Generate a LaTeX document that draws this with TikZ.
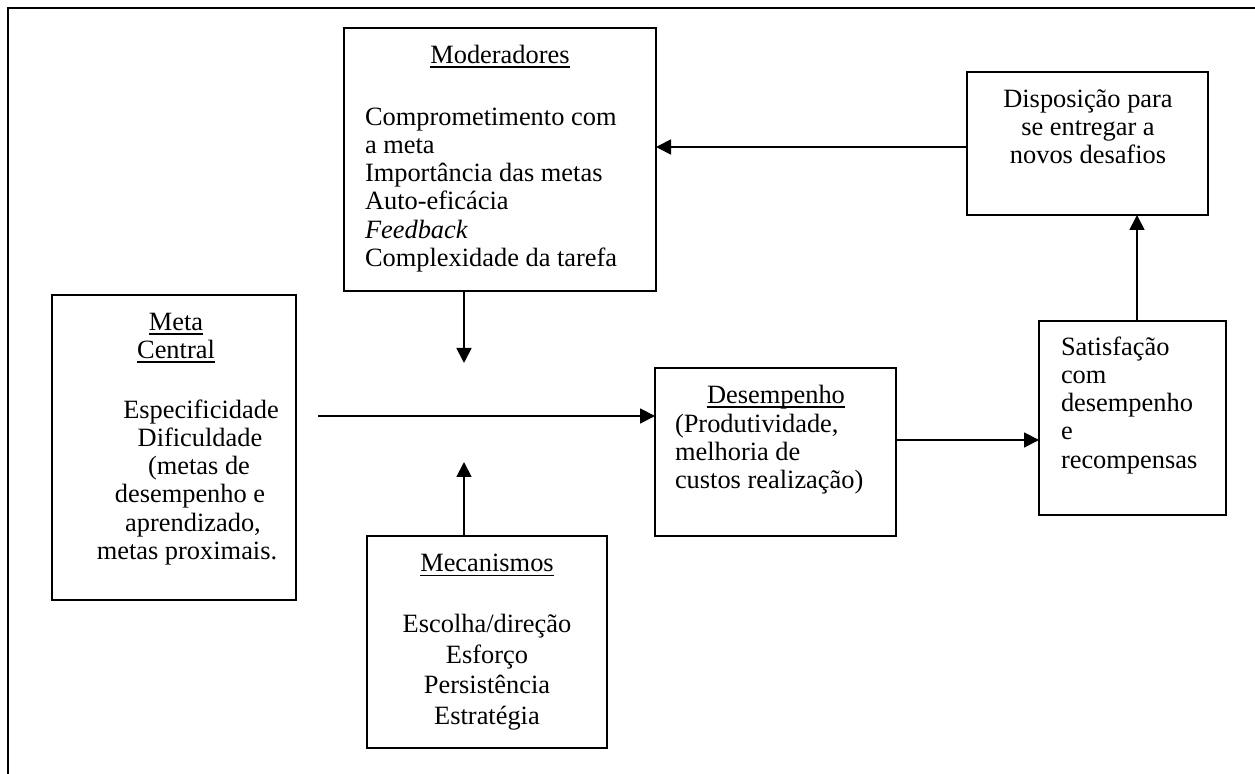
\documentclass[tikz,border=0pt]{standalone}
\usepackage{fontspec}
\setmainfont{Liberation Serif}
\usetikzlibrary{arrows.meta}

% underline that sits just below the baseline, crossing descenders
\newcommand\titleline[1]{\setbox0\hbox{#1}\rlap{\rule[-2.3pt]{\wd0}{0.8pt}}\box0}

\begin{document}
\begin{tikzpicture}[x=0.5pt,y=-0.5pt,
  box/.style={draw, line width=1pt, inner sep=0pt, outer sep=0pt},
  txt/.style={inner sep=0pt, outer sep=0pt, font=\fontsize{13.2}{14.15}\selectfont},
  widetxt/.style={inner sep=0pt, outer sep=0pt, font=\fontsize{13.2}{15.25}\selectfont},
  arr/.style={line width=0.9pt, -{Triangle[length=7.5pt,width=7.5pt]}},
  frameline/.style={line width=1.4pt}]

\useasboundingbox (0,0) rectangle (1255,774);

% outer frame (top and left edges)
\coordinate (fTL) at (8,8);
\coordinate (fTR) at (1255,8);
\coordinate (fBL) at (8,774);
\draw[frameline] (fTR) -- (fTL) -- (fBL);

% boxes
\node[box, minimum width=156pt,  minimum height=131.5pt] (mod)  at (500,159.5) {};
\node[box, minimum width=120.5pt, minimum height=71.5pt] (dis)  at (1087.5,143.5) {};
\node[box, minimum width=122pt,  minimum height=152.5pt] (meta) at (174,447.5) {};
\node[box, minimum width=120.5pt, minimum height=84pt]   (des)  at (775.5,452) {};
\node[box, minimum width=120pt,  minimum height=106pt]   (mec)  at (487,642) {};
\node[box, minimum width=93.5pt, minimum height=97pt]    (sat)  at (1132.5,418) {};

% texts
\node[txt, anchor=north] (modT) at (500,43.2) {\strut\titleline{Moderadores}};
\node[txt, anchor=north west, align=left] (modB) at (365,105.2)
  {\strut Comprometimento com\\a meta\\Importância das metas\\Auto-eficácia\\\textit{Feedback}\\Complexidade da tarefa};

\node[txt, anchor=north, align=center] (metaT) at (176,310.2)
  {\strut\titleline{Meta}\\\titleline{Central}};
\node[txt, anchor=north, align=center] (metaB) at (187,398.2)
  {\strut\hspace*{14pt}Especificidade\\\hspace*{13pt}Dificuldade\\\hspace*{12pt}(metas de\\\hspace*{3pt}desempenho e\\\hspace*{6pt}aprendizado,\\metas proximais.};

\node[widetxt, anchor=north] (mecT) at (487,550.2) {\strut\titleline{Mecanismos}};
\node[widetxt, anchor=north, align=center] (mecB) at (487,611.5)
  {\strut Escolha/direção\\Esforço\\Persistência\\Estratégia};

\node[txt, anchor=north] (desT) at (776,383.2) {\strut\titleline{Desempenho}};
\node[txt, anchor=north west, align=left] (desB) at (675,412.2)
  {\strut(Produtividade,\\melhoria de\\custos realização)};

\node[txt, anchor=north west, align=left] (satB) at (1061,335.2)
  {\strut Satisfação\\com\\desempenho\\e\\recompensas};

\node[txt, anchor=north, align=center] (disB) at (1088,87.2)
  {\strut Disposição para\\se entregar a\\novos desafios};

% connector guides
\coordinate (rowTop) at (0,147);
\coordinate (rowMain) at (0,416);
\coordinate (rowSat) at (0,440);
\coordinate (colMid) at (464,0);
\coordinate (colRight) at (1137,0);
\coordinate (mainStart) at (318,416);
\coordinate (downTip) at (464,363);
\coordinate (upTip) at (464,462);

% connectors
\draw[arr] (dis.west |- rowTop) -- (mod.east |- rowTop);
\draw[arr] (mod.south -| colMid) -- (downTip);
\draw[arr] (mec.north -| colMid) -- (upTip);
\draw[arr] (mainStart) -- (des.west |- rowMain);
\draw[arr] (des.east |- rowSat) -- (sat.west |- rowSat);
\draw[arr] (sat.north -| colRight) -- (dis.south -| colRight);

\end{tikzpicture}
\end{document}
